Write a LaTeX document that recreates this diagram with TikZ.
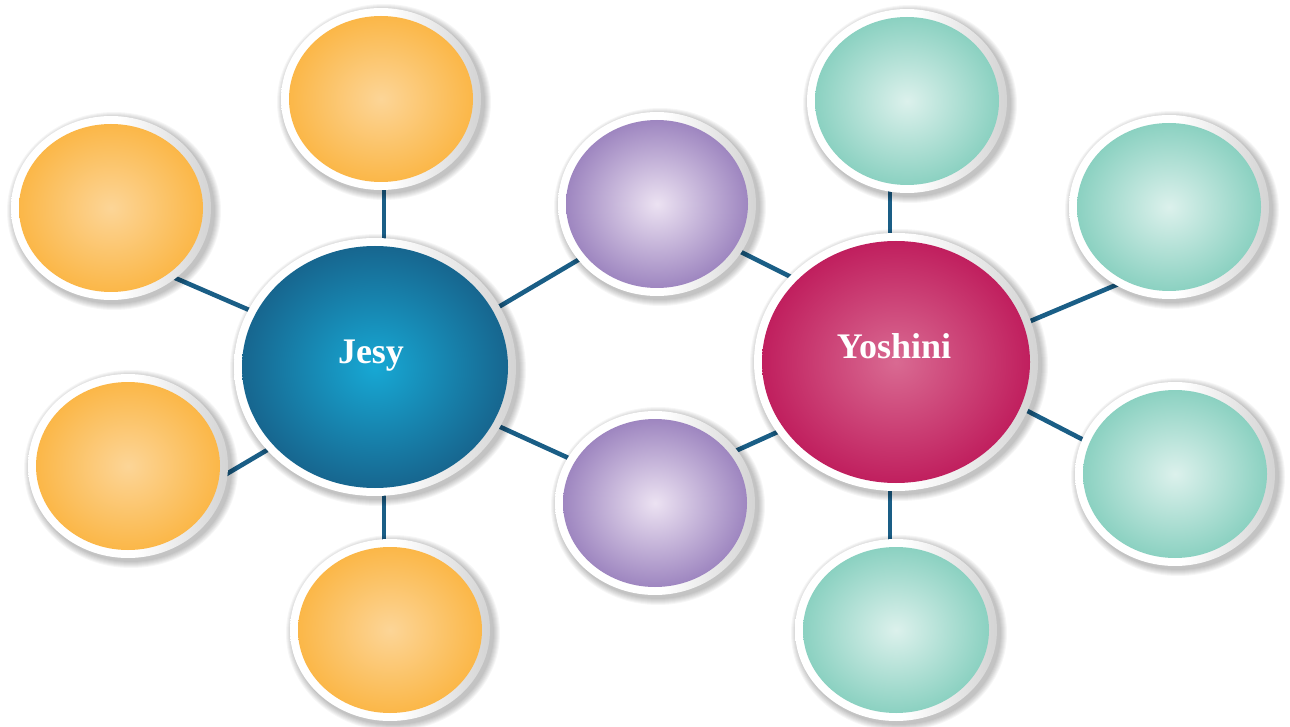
\documentclass[tikz,border=0pt]{standalone}
\usepackage{fontspec}
\setmainfont{Liberation Serif}
\usetikzlibrary{shapes.geometric,calc,backgrounds}
\definecolor{linkc}{HTML}{1A5E86}
\definecolor{orE}{HTML}{FBB748}
\definecolor{orC}{HTML}{FCD597}
\definecolor{puE}{HTML}{9E86C0}
\definecolor{puC}{HTML}{ECE2F2}
\definecolor{tuE}{HTML}{8BD1C1}
\definecolor{tuC}{HTML}{DCF1EC}
\definecolor{blE}{HTML}{17668F}
\definecolor{blC}{HTML}{17A8D4}
\definecolor{rdE}{HTML}{C01F5E}
\definecolor{rdC}{HTML}{D96A92}
\pgfdeclarehorizontalshading{ringsh}{100bp}{color(0bp)=(white); color(25bp)=(white); color(52bp)=(white); color(75bp)=(black!17); color(100bp)=(black!17)}
\tikzset{
  link/.style={draw=linkc, line width=4.6pt},
  ringnode/.style={ellipse, inner sep=0pt, shade, shading=ringsh},
  hubtext/.style={text=white, font=\fontsize{36}{40}\selectfont\bfseries, inner sep=0pt},
}
\newcommand\bubble[7]{%
  \foreach \k in {1,...,7}{\fill[black,opacity=0.035] (#2+3,#3+3) ellipse [x radius=#4+8+\k, y radius=#5+8+\k];}
  \node[ringnode, minimum width=2*#4+16, minimum height=2*#5+16] (#1) at (#2,#3) {};
  \shade[inner color=#7, outer color=#6] (#1.center) ellipse [x radius=#4, y radius=#5];
}
\begin{document}
\begin{tikzpicture}[x=1pt,y=-1pt]
\useasboundingbox (0,0) rectangle (1290,727);
\bubble{jesy}{375}{367}{133}{121}{blE}{blC}
\bubble{yosh}{896}{362}{134}{121}{rdE}{rdC}
\bubble{otop}{381}{99}{92}{83}{orE}{orC}
\bubble{olu}{111}{208}{92}{84}{orE}{orC}
\bubble{oll}{128}{466}{92}{84}{orE}{orC}
\bubble{obot}{390}{630}{92}{83}{orE}{orC}
\bubble{ptop}{657}{204}{91}{84}{puE}{puC}
\bubble{pbot}{655}{503}{92}{84}{puE}{puC}
\bubble{ttop}{907}{101}{92}{84}{tuE}{tuC}
\bubble{tru}{1169}{207}{92}{84}{tuE}{tuC}
\bubble{trl}{1175}{474}{92}{84}{tuE}{tuC}
\bubble{tbot}{896}{630}{93}{83}{tuE}{tuC}
\node[hubtext] (jesyt) at ($(jesy.center)+(-4,-11)$) {Jesy};
\node[hubtext] (yosht) at ($(yosh.center)+(-2,-16)$) {Yoshini};
\begin{scope}[on background layer]
\fill[white] (0,0) rectangle (1290,727);
\draw[link] ($(jesy)+(-112,-51)$) -- ($(olu)+(48,63)$);
\draw[link] ($(jesy)+(-96,76)$) -- ($(oll)+(85,16)$);
\draw[link] ($(jesy)+(9,-110)$) -- ($(otop)+(3,71)$);
\draw[link] ($(jesy)+(9,110)$) -- ($(obot)+(-6,-70)$);
\draw[link] ($(jesy)+(110,-52)$) -- ($(ptop)+(-62,46)$);
\draw[link] ($(jesy)+(110,53)$) -- ($(pbot)+(-69,-37)$);
\draw[link] ($(yosh)+(-91,-78)$) -- ($(ptop)+(68,40)$);
\draw[link] ($(yosh)+(-103,63)$) -- ($(pbot)+(65,-45)$);
\draw[link] ($(yosh)+(-6,-110)$) -- ($(ttop)+(-17,64)$);
\draw[link] ($(yosh)+(-6,110)$) -- ($(tbot)+(-6,-65)$);
\draw[link] ($(yosh)+(118,-34)$) -- ($(tru)+(-34,70)$);
\draw[link] ($(yosh)+(116,41)$) -- ($(trl)+(-74,-25)$);
\end{scope}
\end{tikzpicture}
\end{document}
